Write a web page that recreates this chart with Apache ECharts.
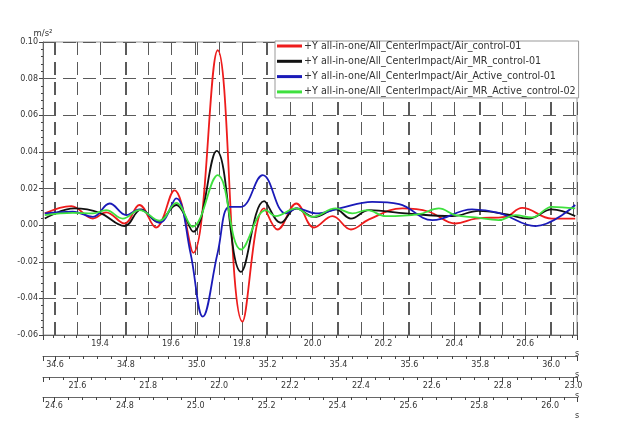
<!DOCTYPE html>
<html>
<head>
<meta charset="utf-8">
<script src="https://cdn.jsdelivr.net/npm/echarts@6/dist/echarts.min.js"></script>
<style>html,body{margin:0;padding:0;background:#fff;}#c{width:623px;height:439px;}</style>
</head>
<body>
<div id="c"></div>
<script>
const seriesNames = [
  '+Y all-in-one/All_CenterImpact/Air_control-01',
  '+Y all-in-one/All_CenterImpact/Air_MR_control-01',
  '+Y all-in-one/All_CenterImpact/Air_Active_control-01',
  '+Y all-in-one/All_CenterImpact/Air_MR_Active_control-02'
];
const redT = [19.244,19.319,19.380,19.417,19.469,19.511,19.558,19.610,19.663,19.732,19.802,19.863,19.901,19.954,20.004,20.056,20.108,20.159,20.253,20.328,20.403,20.460,20.544,20.591,20.675,20.741];
const redV = [0.0064,0.0104,0.0036,0.0070,0.0009,0.0110,-0.0013,0.0190,-0.0151,0.0955,-0.0527,0.0091,-0.0024,0.0118,-0.0013,0.0049,-0.0024,0.0031,0.0091,0.0073,0.0009,0.0036,0.0045,0.0094,0.0036,0.0036];
const blackT = [19.244,19.328,19.399,19.469,19.516,19.563,19.615,19.663,19.729,19.798,19.863,19.910,19.953,20.004,20.065,20.108,20.159,20.263,20.394,20.469,20.544,20.610,20.675,20.741];
const blackV = [0.0036,0.0091,0.0067,-0.0005,0.0086,0.0018,0.0110,-0.0036,0.0405,-0.0255,0.0131,0.0013,0.0091,0.0045,0.0086,0.0036,0.0082,0.0064,0.0049,0.0078,0.0060,0.0036,0.0086,0.0049];
const blueT = [19.244,19.323,19.380,19.427,19.474,19.511,19.568,19.615,19.655,19.690,19.732,19.765,19.798,19.859,19.924,19.957,20.009,20.075,20.168,20.244,20.338,20.450,20.525,20.629,20.741];
const blueV = [0.0064,0.0073,0.0045,0.0118,0.0055,0.0086,0.0013,0.0146,-0.0150,-0.0500,-0.0150,0.0100,0.0100,0.0273,0.0064,0.0091,0.0064,0.0091,0.0127,0.0115,0.0027,0.0086,0.0067,-0.0005,0.0110];
const greenT = [19.244,19.323,19.380,19.417,19.464,19.511,19.568,19.615,19.661,19.732,19.798,19.868,19.896,19.953,19.999,20.065,20.112,20.154,20.206,20.300,20.356,20.403,20.460,20.525,20.572,20.619,20.675,20.741];
const greenV = [0.0055,0.0067,0.0064,0.0082,0.0036,0.0082,0.0024,0.0122,-0.0009,0.0273,-0.0133,0.0082,0.0049,0.0091,0.0045,0.0091,0.0064,0.0082,0.0049,0.0060,0.0091,0.0055,0.0042,0.0027,0.0055,0.0042,0.0100,0.0091];
const colors = ['#ee1c1c','#111111','#1a1ab8','#3ee03e'];
// x axis ranges (main time axis + three secondary time scales)
const xRanges = [[19.239,20.746],[34.566,36.073],[21.503,23.010],[24.569,26.076]];
const yMin = -0.06, yMax = 0.10, yStep = 0.02;

function zip(t, v){ return t.map((x,i)=>[x, v[i]]); }
const tables = [zip(redT,redV), zip(blackT,blackV), zip(blueT,blueV), zip(greenT,greenV)];

const font = 'DejaVu Sans';
const gridDash = {type:[13,7], color:'#5a5a5a', width:1};
const offsets = [0,21,42,62];
const minorSplits = [6,5,5,5];

const xAxes = xRanges.map((r,i)=>({
  type:'value', gridIndex:0, position:'bottom', offset:offsets[i],
  min:r[0], max:r[1], splitNumber:7,
  name:'s', nameLocation:'end', nameGap:0,
  nameTextStyle:{fontFamily:font, fontSize:8, color:'#333', align:'center', verticalAlign:'top', padding:[15,0,0,0]},
  axisLine:{show:true, onZero:false, lineStyle:{color:'#666', width:1}},
  axisTick:{show:true, inside:false, length:5, lineStyle:{color:'#444'}},
  minorTick:{show:true, splitNumber:minorSplits[i], length:3, lineStyle:{color:'#444'}},
  axisLabel:{fontFamily:font, fontSize:8, color:'#333', margin:5, showMinLabel:false, showMaxLabel:false, formatter:v=>v.toFixed(1)},
  splitLine:{show:true, lineStyle:gridDash}
}));

const chart = echarts.init(document.getElementById('c'), null, {renderer:'canvas'});
chart.setOption({
  backgroundColor:'#fff',
  animation:false,
  grid:{left:43, right:46, top:42, bottom:104, show:true, borderColor:'#999', borderWidth:1, backgroundColor:'transparent'},
  legend:{
    orient:'vertical', left:275, top:41, icon:'rect', itemWidth:25, itemHeight:3, itemGap:5.3,
    padding:[0,3,1,2], backgroundColor:'#fff', borderColor:'#999', borderWidth:1, borderRadius:0,
    textStyle:{fontFamily:font, fontSize:9.6, color:'#333', padding:[0,0,0,-3]},
    data:seriesNames
  },
  xAxis:xAxes,
  yAxis:{
    type:'value', min:yMin, max:yMax, interval:yStep,
    name:'m/s²', nameLocation:'end', nameGap:4,
    nameTextStyle:{fontFamily:font, fontSize:8.5, color:'#333', align:'center'},
    axisLine:{show:true, lineStyle:{color:'#666'}},
    axisTick:{show:true, length:4, lineStyle:{color:'#444'}},
    minorTick:{show:true, splitNumber:5, length:2, lineStyle:{color:'#444'}},
    axisLabel:{fontFamily:font, fontSize:8, color:'#333', margin:5, formatter:v=>v.toFixed(2)},
    splitLine:{show:true, lineStyle:gridDash}
  },
  series:seriesNames.map((n,i)=>({
    name:n, type:'line', xAxisIndex:0, yAxisIndex:0, data:tables[i],
    smooth:0.4, symbol:'none', showSymbol:false,
    lineStyle:{color:colors[i], width:1.8}, itemStyle:{color:colors[i]}
  }))
});
</script>
</body>
</html>
